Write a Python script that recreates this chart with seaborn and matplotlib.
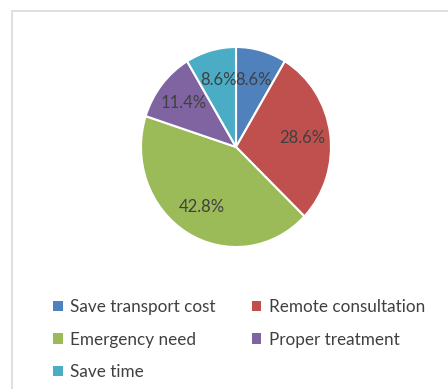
import matplotlib
matplotlib.use("Agg")
import matplotlib.pyplot as plt
import seaborn as sns
from matplotlib.patches import Rectangle, Patch

sns.set_theme(style="white")
plt.rcParams["font.family"] = ["Lato", "DejaVu Sans"]

categories = ["Save transport cost", "Remote consultation", "Emergency need",
              "Proper treatment", "Save time"]
shares = [8.6, 28.6, 42.8, 11.4, 8.6]
colors = ["#4F81BD", "#C0504D", "#9BBB59", "#8064A2", "#4BACC6"]

W, H, DPI = 448, 389, 100
fig = plt.figure(figsize=(W / DPI, H / DPI), dpi=DPI)
fig.patch.set_facecolor("white")

# chart-area frame
fig.patches.append(Rectangle((12 / W, -0.1), 1.2, 1 - 11 / H + 0.1,
                             transform=fig.transFigure, fill=False,
                             edgecolor="#D9D9D9", linewidth=1.2))

cx, cy, rx, ry = 236, 147, 95, 100
ax = fig.add_axes([(cx - rx) / W, 1 - (cy + ry) / H, 2 * rx / W, 2 * ry / H])
wedges, texts, autotexts = ax.pie(
    shares, colors=colors, startangle=90, counterclock=False,
    autopct=lambda p: f"{p:.1f}%", pctdistance=0.7,
    wedgeprops=dict(edgecolor="white", linewidth=1.5),
    textprops=dict(fontsize=12, color="#404040"))
ax.set_xlim(-1, 1)
ax.set_ylim(-1, 1)
ax.set_aspect("auto")

handles = [Patch(facecolor=c, edgecolor="none") for c in colors]
order = [0, 2, 4, 1, 3]
leg = fig.legend([handles[i] for i in order], [categories[i] for i in order],
                 loc="upper left", bbox_to_anchor=(38 / W, 1 - 284 / H),
                 ncol=2, frameon=False, fontsize=12.3, handlelength=0.55,
                 handleheight=0.55, handletextpad=0.45, columnspacing=2.1,
                 labelspacing=0.95, labelcolor="#404040")

fig.savefig("out.png", dpi=DPI, facecolor="white")
